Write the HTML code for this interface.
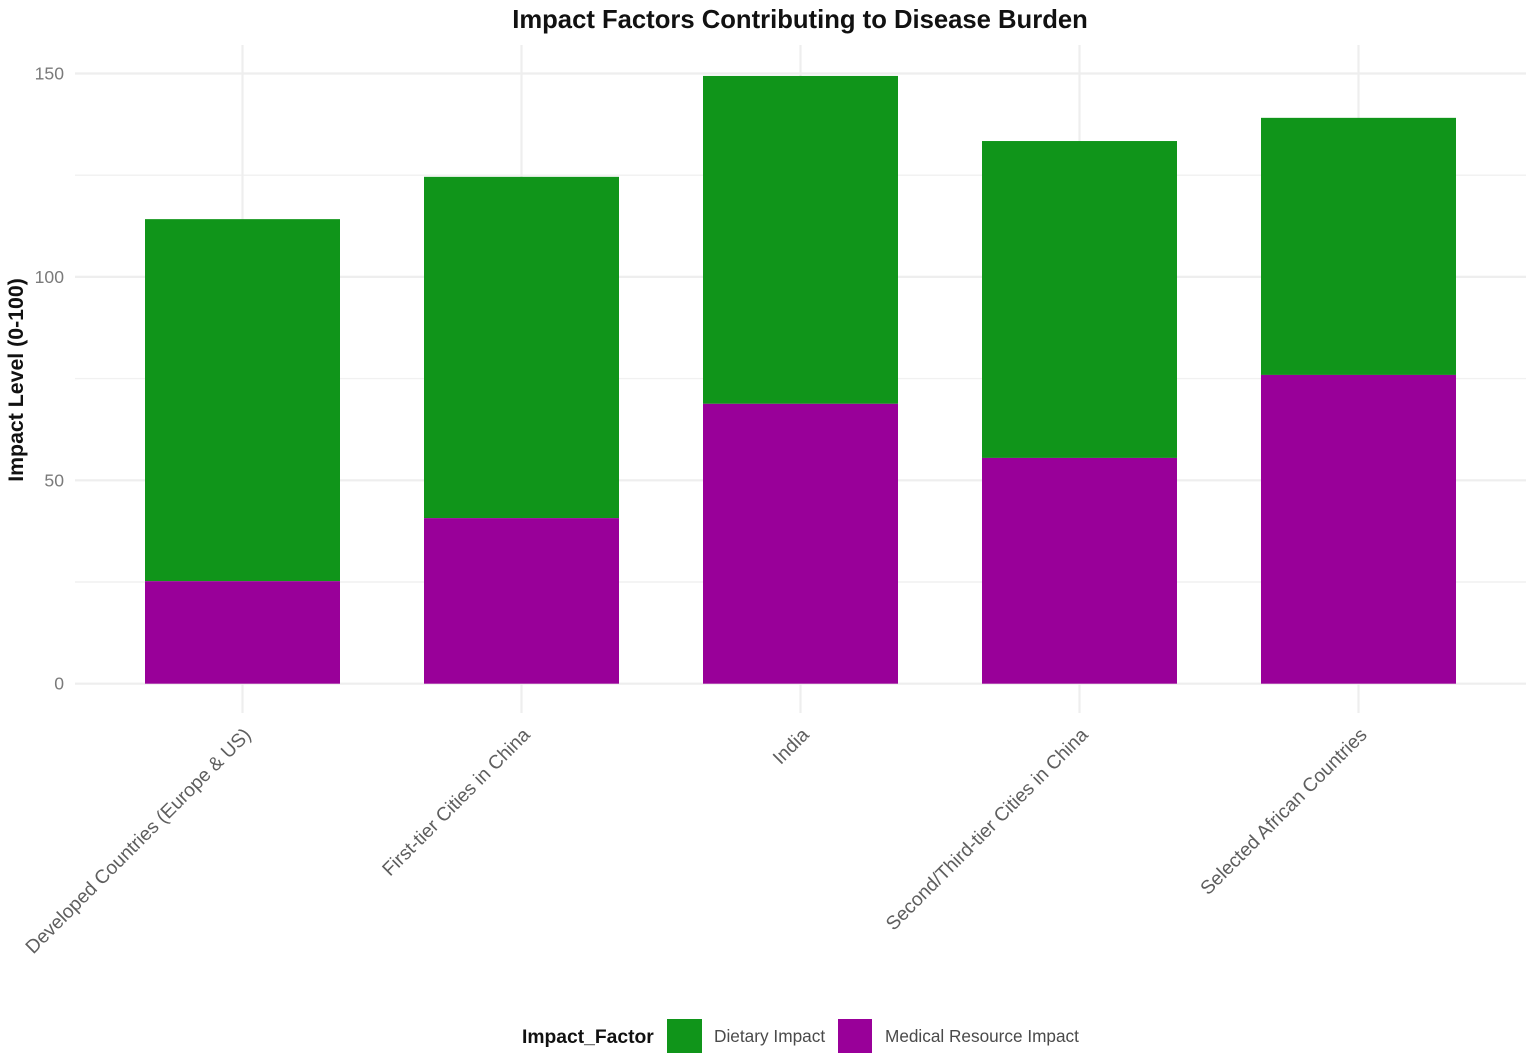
<!DOCTYPE html>
<html>
<head>
<meta charset="utf-8">
<style>
html,body{margin:0;padding:0;background:#fff;width:1535px;height:1061px;overflow:hidden}
svg{display:block;font-family:"Liberation Sans",Arial,sans-serif}
</style>
</head>
<body>
<svg id="chart" width="1535" height="1061" viewBox="0 0 1535 1061" xmlns="http://www.w3.org/2000/svg">
<g id="grid"></g>
<g id="bars"></g>
<g id="yticks"></g>
<g id="xticks"></g>
<text x="800" y="28" text-anchor="middle" font-size="25.65" font-weight="700" fill="#111">Impact Factors Contributing to Disease Burden</text>
<text transform="translate(23,380) rotate(-90)" text-anchor="middle" font-size="21.3" font-weight="700" fill="#111">Impact Level (0-100)</text>
<g>
<text x="522" y="1043" font-size="19.3" font-weight="700" fill="#111">Impact_Factor</text>
<rect x="667" y="1019" width="35" height="34" fill="#10951a"></rect>
<text x="714" y="1042" font-size="17.25" fill="#4a4a4a">Dietary Impact</text>
<rect x="838" y="1019" width="34" height="34" fill="#990099"></rect>
<text x="885" y="1042" font-size="17.2" fill="#4a4a4a">Medical Resource Impact</text>
</g>
</svg>
<script>
const categories = ["Developed Countries (Europe & US)", "First-tier Cities in China", "India", "Second/Third-tier Cities in China", "Selected African Countries"];
const medicalValues = [25.2, 40.7, 68.8, 55.5, 75.9];
const dietaryValues = [89, 83.9, 80.6, 77.9, 63.2];
const yTickLabels = [0, 50, 100, 150];
const yMinorTicks = [25, 75, 125];

const svgNS = "http://www.w3.org/2000/svg";
const yScale = v => 683.7 - v * (683.7 - 73.5) / 150;
const xScale = i => 242.5 + i * 279;
const barHalf = 97.5;
const plotLeft = 75, plotRight = 1526, plotTop = 45, plotBottom = 713;

function mk(tag, attrs, parent) {
  const el = document.createElementNS(svgNS, tag);
  for (const k in attrs) el.setAttribute(k, attrs[k]);
  parent.appendChild(el);
  return el;
}
const grid = document.getElementById("grid");
const bars = document.getElementById("bars");
const yt = document.getElementById("yticks");
const xt = document.getElementById("xticks");

yMinorTicks.forEach(v => {
  const l = mk("line", {x1: plotLeft, x2: plotRight, y1: yScale(v), y2: yScale(v), stroke: "#f1f1f1", "stroke-width": 1.4}, grid);
  
  
});
yTickLabels.forEach(v => {
  const l = mk("line", {x1: plotLeft, x2: plotRight, y1: yScale(v), y2: yScale(v), stroke: "#eeeeee", "stroke-width": 2.2}, grid);
  
  
  const t = mk("text", {x: 64, y: yScale(v) + 6, "text-anchor": "end", "font-size": 17.6, fill: "#7a7a7a"}, yt);
  t.textContent = v;
  
  
});
categories.forEach((c, i) => {
  const x = xScale(i);
  const l = mk("line", {x1: x, x2: x, y1: plotTop, y2: plotBottom, stroke: "#eeeeee", "stroke-width": 2.2}, grid);
  
  

  const m = medicalValues[i], d = dietaryValues[i];
  const rd = mk("rect", {x: x - barHalf, width: barHalf * 2, y: yScale(m + d), height: yScale(m) - yScale(m + d), fill: "#10951a"}, bars);
  
  
  const rm = mk("rect", {x: x - barHalf, width: barHalf * 2, y: yScale(m), height: yScale(0) - yScale(m), fill: "#990099"}, bars);
  
  

  const t = mk("text", {transform: `translate(${x + 9.5},736) rotate(-45)`, "text-anchor": "end", "font-size": 19.2, fill: "#5e5e5e"}, xt);
  t.textContent = c;
  
  
});
</script>
</body>
</html>
